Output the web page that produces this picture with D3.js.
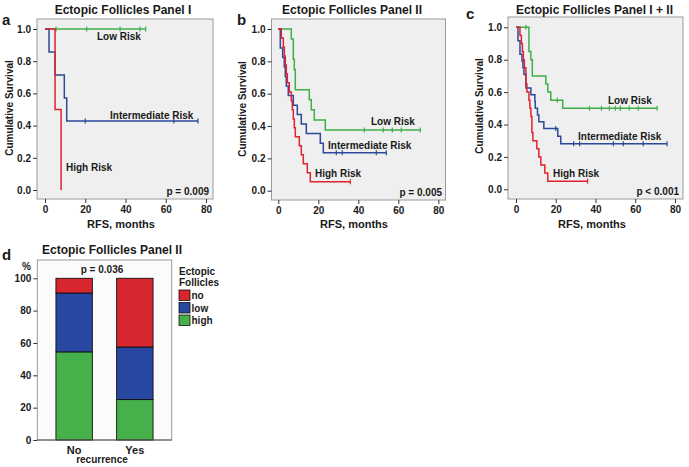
<!DOCTYPE html>
<html><head><meta charset="utf-8">
<script src="https://cdn.jsdelivr.net/npm/d3@7/dist/d3.min.js"></script>
<style>
body{margin:0;background:#fff}
svg{display:block}
text{font-family:Arial,"Liberation Sans",sans-serif;font-weight:bold;fill:#1a1a1a}
</style></head>
<body><svg id="c" width="689" height="467"></svg>
<script>
// ---------- DATA ----------
const kmTicksY = [0, 0.2, 0.4, 0.6, 0.8, 1.0];
const kmTicksX = [0, 20, 40, 60, 80];
const riskLabels = ["Low Risk", "Intermediate Risk", "High Risk"];

// Panel I  (step points [month, survival])
const aLow = [[0, 1]];
const aLowEnd = 50;
const aLowCens = [5.5, 20.7, 37.3, 47.2, 50];
const aInter = [[0, 1], [2, 0.857], [5, 0.714], [9.6, 0.571], [10.8, 0.429]];
const aInterEnd = 76;
const aInterCens = [20, 64, 76];
const aHigh = [[0, 1], [5, 0.5], [8, 0]];
const aHighEnd = 8;
const aHighCens = [];

// Panel II
const bLow = [[0, 1], [6.5, 0.938], [7.5, 0.813], [8, 0.75], [8.5, 0.625], [15.5, 0.563], [16.5, 0.5], [18, 0.438], [23.5, 0.375]];
const bLowEnd = 71;
const bLowCens = [43, 52.5, 57, 61.5, 71];
const bInter = [[0, 1], [1, 0.882], [2.2, 0.824], [3, 0.765], [3.5, 0.706], [4, 0.647], [5, 0.588], [7.5, 0.529], [9.5, 0.471], [11.5, 0.412], [14, 0.353], [21, 0.294], [22.5, 0.235]];
const bInterEnd = 54;
const bInterCens = [29, 32, 49, 54];
const bHigh = [[0, 1], [1.5, 0.944], [2.5, 0.889], [3, 0.833], [3.5, 0.778], [4, 0.722], [4.5, 0.667], [5.5, 0.611], [6.5, 0.556], [7, 0.5], [7.5, 0.444], [8, 0.389], [8.5, 0.333], [10.5, 0.278], [11.5, 0.222], [12.5, 0.167], [14.5, 0.111], [16, 0.056]];
const bHighEnd = 36;
const bHighCens = [36];

// Panel I + II
const cLow = [[0, 1], [6.5, 0.85], [7.5, 0.8], [8.2, 0.7], [15, 0.65], [16, 0.6], [17.5, 0.55], [23.5, 0.5]];
const cLowEnd = 71;
const cLowCens = [5, 20.8, 37, 43, 47, 50, 52.5, 57, 61.5, 71];
const cInter = [[0, 1], [1, 0.917], [2, 0.833], [3, 0.792], [3.5, 0.75], [4, 0.708], [5, 0.625], [7.5, 0.583], [9.5, 0.542], [9.7, 0.5], [10.8, 0.458], [11.5, 0.417], [14, 0.375], [21, 0.328], [22.5, 0.281]];
const cInterEnd = 76;
const cInterCens = [20, 29, 32, 49, 54, 64, 76];
const cHigh = [[0, 1], [2, 0.95], [2.7, 0.9], [3.2, 0.85], [3.7, 0.8], [4.2, 0.75], [5, 0.65], [5.5, 0.6], [6.5, 0.55], [7, 0.5], [7.5, 0.45], [8, 0.35], [8.5, 0.3], [10.5, 0.25], [11.5, 0.2], [12.5, 0.15], [14.5, 0.1], [16, 0.05]];
const cHighEnd = 36;
const cHighCens = [36];

const pValues = ["p = 0.009", "p = 0.005", "p < 0.001"];
const panelTitles = ["Ectopic Follicles Panel I", "Ectopic Follicles Panel II", "Ectopic Follicles Panel I + II", "Ectopic Follicles Panel II"];

// Panel d: stacked percentages
const recurrence = ["No", "Yes"];
const follicleLevels = ["high", "low", "no"];
const pctHigh = [54.5, 25.0];
const pctLow = [36.4, 32.5];
const pctNo = [9.1, 42.5];
const barTicks = [0, 20, 40, 60, 80, 100];
const dPValue = "p = 0.036";

// ---------- DRAW ----------
const svg = d3.select("#c");
const COL = {green: "#3fae49", blue: "#2b4a9c", red: "#e0232e"};
const BAR = {high: "#46b04a", low: "#2747a0", no: "#d8262f"};

function kmPanel(cfg) {
  const g = svg.append("g");
  const [bl, bt, br, bb] = cfg.box;
  g.append("rect").attr("x", bl).attr("y", bt).attr("width", br - bl).attr("height", bb - bt)
    .attr("fill", "#efefef").attr("stroke", "#9a9a9a").attr("stroke-width", 1);
  const x = d3.scaleLinear().domain([0, 80]).range(cfg.xr);
  const y = d3.scaleLinear().domain([0, 1]).range(cfg.yr);

  const ya = g.append("g").attr("transform", `translate(${bl},0)`)
    .call(d3.axisLeft(y).tickValues(kmTicksY).tickFormat(d3.format(".1f")).tickSize(4).tickPadding(2));
  const xa = g.append("g").attr("transform", `translate(0,${bb})`)
    .call(d3.axisBottom(x).tickValues(kmTicksX).tickSize(4).tickPadding(3));
  [ya, xa].forEach(a => {
    a.select(".domain").remove();
    a.selectAll("line").attr("stroke", "#333");
    a.selectAll("text").attr("font-size", 10).attr("font-weight", "bold").attr("fill", "#1a1a1a")
      .attr("font-family", "Arial, Liberation Sans, sans-serif");
  });

  const line = d3.line().x(d => x(d[0])).y(d => y(d[1])).curve(d3.curveStepAfter);
  cfg.series.forEach(s => {
    const pts = s.steps.concat([[s.end, s.steps[s.steps.length - 1][1]]]);
    g.append("path").attr("d", line(pts)).attr("fill", "none")
      .attr("stroke", s.color).attr("stroke-width", 1.5);
    const surv = t => { let v = 1; s.steps.forEach(p => { if (p[0] <= t) v = p[1]; }); return v; };
    s.cens.forEach(t => {
      g.append("line").attr("x1", x(t)).attr("x2", x(t))
        .attr("y1", y(surv(t)) - 2.5).attr("y2", y(surv(t)) + 2.5)
        .attr("stroke", s.color).attr("stroke-width", 1.2);
    });
    g.append("text").attr("x", s.lx).attr("y", s.ly).attr("font-size", 10).text(s.label);
  });

  g.append("text").attr("x", cfg.pX).attr("y", bb - 4).attr("text-anchor", "end")
    .attr("font-size", 10).text(cfg.p);
  g.append("text").attr("x", cfg.titleX).attr("y", 14).attr("text-anchor", "middle")
    .attr("font-size", 12).text(cfg.title);
  g.append("text").attr("x", cfg.letterX).attr("y", cfg.letterY).attr("font-size", 15).text(cfg.letter);
  g.append("text").attr("transform", `translate(${cfg.ylabX},${cfg.ylabY}) rotate(-90)`)
    .attr("text-anchor", "middle").attr("font-size", 10).text("Cumulative Survival");
  g.append("text").attr("x", cfg.xlabX).attr("y", 228).attr("text-anchor", "middle")
    .attr("font-size", 11).text("RFS, months");
}

kmPanel({
  box: [37, 19, 213, 199], xr: [45, 206], yr: [190, 29],
  title: panelTitles[0], titleX: 123, letter: "a", letterX: 2, letterY: 25,
  ylabX: 13, ylabY: 108, xlabX: 121, p: pValues[0], pX: 209,
  series: [
    {steps: aLow, end: aLowEnd, cens: aLowCens, color: COL.green, label: riskLabels[0], lx: 97, ly: 40},
    {steps: aInter, end: aInterEnd, cens: aInterCens, color: COL.blue, label: riskLabels[1], lx: 110, ly: 119},
    {steps: aHigh, end: aHighEnd, cens: aHighCens, color: COL.red, label: riskLabels[2], lx: 66, ly: 171}
  ]
});
kmPanel({
  box: [271.5, 19, 445.5, 200], xr: [278.3, 438.3], yr: [190.7, 29],
  title: panelTitles[1], titleX: 352, letter: "b", letterX: 237, letterY: 25,
  ylabX: 246, ylabY: 109, xlabX: 354, p: pValues[1], pX: 442,
  series: [
    {steps: bLow, end: bLowEnd, cens: bLowCens, color: COL.green, label: riskLabels[0], lx: 371, ly: 125},
    {steps: bInter, end: bInterEnd, cens: bInterCens, color: COL.blue, label: riskLabels[1], lx: 328, ly: 149},
    {steps: bHigh, end: bHighEnd, cens: bHighCens, color: COL.red, label: riskLabels[2], lx: 315, ly: 177}
  ]
});
kmPanel({
  box: [508, 17, 683, 199], xr: [516, 675], yr: [189.3, 27.3],
  title: panelTitles[2], titleX: 594.5, letter: "c", letterX: 466, letterY: 19,
  ylabX: 483, ylabY: 106, xlabX: 592, p: pValues[2], pX: 679,
  series: [
    {steps: cLow, end: cLowEnd, cens: cLowCens, color: COL.green, label: riskLabels[0], lx: 608, ly: 104},
    {steps: cInter, end: cInterEnd, cens: cInterCens, color: COL.blue, label: riskLabels[1], lx: 578, ly: 140},
    {steps: cHigh, end: cHighEnd, cens: cHighCens, color: COL.red, label: riskLabels[2], lx: 553, ly: 177}
  ]
});

// ---------- Panel d ----------
(function () {
  const g = svg.append("g");
  const bl = 37.3, br = 171.7, bt = 260, bb = 440;
  g.append("rect").attr("x", bl).attr("y", bt).attr("width", br - bl).attr("height", bb - bt)
    .attr("fill", "#fbfbfb").attr("stroke", "#9a9a9a").attr("stroke-width", 1);
  const x = d3.scaleBand().domain(recurrence).range([bl, br]).paddingInner(0.4).paddingOuter(0.307);
  const y = d3.scaleLinear().domain([0, 100]).range([bb, 278.3]);

  const rows = recurrence.map((r, i) => ({key: r, high: pctHigh[i], low: pctLow[i], no: pctNo[i]}));
  const stack = d3.stack().keys(follicleLevels)(rows);
  stack.forEach(layer => {
    g.selectAll(null).data(layer).enter().append("rect")
      .attr("x", d => x(d.data.key)).attr("width", x.bandwidth())
      .attr("y", d => y(d[1])).attr("height", d => y(d[0]) - y(d[1]))
      .attr("fill", BAR[layer.key]).attr("stroke", "#111").attr("stroke-width", 0.9);
  });

  const ya = g.append("g").attr("transform", `translate(${bl},0)`)
    .call(d3.axisLeft(y).tickValues(barTicks).tickSize(4).tickPadding(2));
  const xa = g.append("g").attr("transform", `translate(0,${bb})`)
    .call(d3.axisBottom(x).tickSize(0).tickPadding(6));
  [ya, xa].forEach(a => {
    a.select(".domain").remove();
    a.selectAll("line").attr("stroke", "#333");
    a.selectAll("text").attr("font-size", 10).attr("font-weight", "bold").attr("fill", "#1a1a1a")
      .attr("font-family", "Arial, Liberation Sans, sans-serif");
  });
  g.append("line").attr("x1", bl).attr("x2", br).attr("y1", bb).attr("y2", bb).attr("stroke", "#555");
  xa.selectAll("text").attr("font-size", 11);

  g.append("text").attr("x", 102).attr("y", 463).attr("text-anchor", "middle").attr("font-size", 10).text("recurrence");
  g.append("text").attr("x", 26.5).attr("y", 270).attr("text-anchor", "middle").attr("font-size", 10).text("%");
  g.append("text").attr("x", 102).attr("y", 273).attr("text-anchor", "middle").attr("font-size", 10).text(dPValue);
  g.append("text").attr("x", 112).attr("y", 254).attr("text-anchor", "middle").attr("font-size", 12).text(panelTitles[3]);
  g.append("text").attr("x", 2).attr("y", 260).attr("font-size", 15).text("d");

  g.append("text").attr("x", 179).attr("y", 275).attr("font-size", 10).text("Ectopic");
  g.append("text").attr("x", 179).attr("y", 286).attr("font-size", 10).text("Follicles");
  const legendOrder = ["no", "low", "high"];
  legendOrder.forEach((k, i) => {
    const yy = 290 + i * 12.5;
    g.append("rect").attr("x", 179).attr("y", yy).attr("width", 11).attr("height", 10.5)
      .attr("fill", BAR[k]).attr("stroke", "#111").attr("stroke-width", 0.8);
    g.append("text").attr("x", 191.5).attr("y", yy + 9).attr("font-size", 10).text(k);
  });
})();
</script></body></html>
